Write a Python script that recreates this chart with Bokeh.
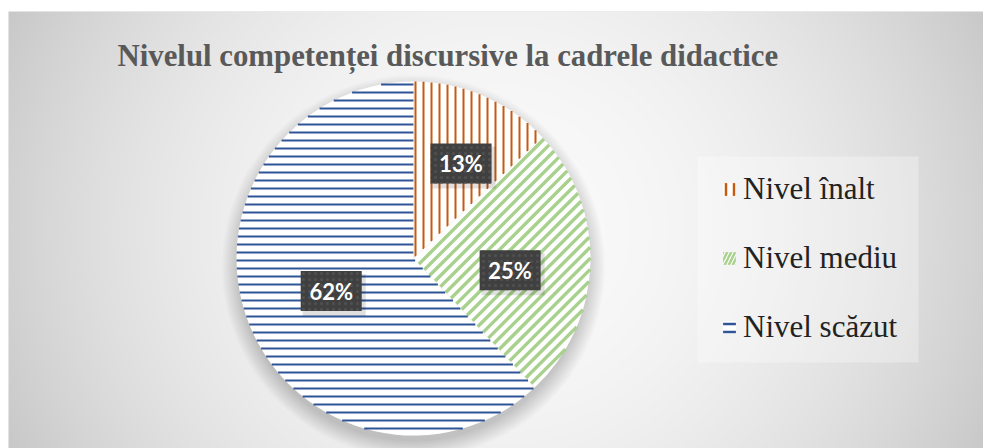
import numpy as np
from bokeh.plotting import figure
from bokeh.models import Range1d, Legend, LegendItem, Label, ColumnDataSource
from bokeh.embed import file_html
from bokeh.resources import INLINE
from bokeh.core.properties import value

# ---------------- data ----------------
title_text = "Nivelul competenței discursive la cadrele didactice"
categories = ["Nivel înalt", "Nivel mediu", "Nivel scăzut"]
percentages = [13, 25, 62]

# ---------------- styles ----------------
hatch_colors = ["#C55A11", "#A9D18E", "#2F5597"]
hatch_patterns = ["|", "/", "-"]
hatch_dirs = [90, 45, 0]          # direction of hatch lines (deg)
hatch_spacing = [8, 7.8, 8]
hatch_offset = [-2, 0, 6]
hatch_widths = [2, 3.4, 2]
label_dist = [0.60, 0.55, 0.5]
label_turn_deg = [3.2, 5.2, 0.0]  # clockwise nudge of label positions

W, H = 983, 448
LEFT, TOP = 8, 11
FW, FH = W - LEFT, H - TOP
CX, CY, R = 405, 190, 177

p = figure(width=W, height=H, output_backend="svg", toolbar_location=None,
           x_range=Range1d(0, FW), y_range=Range1d(0, FH),
           x_axis_location=None, y_axis_location=None,
           min_border=0, min_border_left=LEFT, min_border_top=TOP)
p.grid.visible = False
p.outline_line_color = None
p.border_fill_color = "white"
p.background_fill_color = "#d9d9d9"

# radial grey gradient background
gw, gh = FW // 2, FH // 2
yy, xx = np.mgrid[0:gh, 0:gw].astype(float)
dx = (xx - gw * 0.5) / (gw * 0.62)
dy = (yy - gh * 0.50) / (gh * 1.3)
t2 = np.clip(dx ** 2 + dy ** 2, 0, 1.3)
v = np.clip(250 - 62 * t2, 0, 255).astype(np.uint32)
img = (255 << 24) | (v << 16) | (v << 8) | v
p.image_rgba(image=[img.astype(np.uint32)], x=0, y=0, dw=FW, dh=FH)

# soft drop shadow under the pie
for k in range(12):
    p.circle(x=CX, y=CY - 8, radius=R - 2 + k * 1.5, fill_color="black",
             fill_alpha=0.014, line_color=None)

vals = np.array(percentages, dtype=float)
frac = vals / vals.sum()
cum = np.concatenate([[0.0], np.cumsum(frac)])
start = np.pi / 2 - 2 * np.pi * cum[1:]
end = np.pi / 2 - 2 * np.pi * cum[:-1]


def hatch_segments(a0, a1, dir_deg, spacing, offset):
    th = np.deg2rad(dir_deg)
    u = np.array([np.cos(th), np.sin(th)])
    n = np.array([-np.sin(th), np.cos(th)])
    k0 = int(np.floor((-R - offset) / spacing))
    k1 = int(np.ceil((R - offset) / spacing))
    xs, ys = [], []
    span = a1 - a0
    for k in range(k0, k1 + 1):
        c = offset + k * spacing
        if abs(c) >= R:
            continue
        half = np.sqrt(R * R - c * c)
        t = np.linspace(-half, half, 1200)
        px = CX + c * n[0] + t * u[0]
        py = CY + c * n[1] + t * u[1]
        a = np.arctan2(py - CY, px - CX)
        inside = np.mod(a - a0, 2 * np.pi) <= span
        if not inside.any():
            continue
        idx = np.flatnonzero(np.diff(np.concatenate([[0], inside.astype(int), [0]])))
        for s, e in zip(idx[::2], idx[1::2] - 1):
            if e > s:
                xs.append([px[s], px[e]])
                ys.append([py[s], py[e]])
    return xs, ys


legend_renderers = []
for i, cat in enumerate(categories):
    src = ColumnDataSource(dict(x=[CX], y=[CY], s=[start[i]], e=[end[i]]))
    p.wedge(x="x", y="y", radius=R, start_angle="s", end_angle="e", source=src,
            fill_color="white", line_color=None)
    hx, hy = hatch_segments(start[i], end[i], hatch_dirs[i], hatch_spacing[i], hatch_offset[i])
    p.multi_line(xs=hx, ys=hy, line_color=hatch_colors[i], line_width=hatch_widths[i],
                 line_cap="butt")
    # legend swatch renderer (zero-size, only its legend glyph is visible)
    lr = p.rect(x=[CX], y=[CY], width=0, height=0, fill_color="white", line_color=None,
                hatch_pattern=hatch_patterns[i], hatch_color=hatch_colors[i],
                hatch_scale=8, hatch_weight=2.5)
    legend_renderers.append(lr)

# data labels
mid = (cum[:-1] + cum[1:]) / 2
ang = np.pi / 2 - 2 * np.pi * mid - np.deg2rad(label_turn_deg)
d = np.array(label_dist) * R
lx = CX + d * np.cos(ang)
ly = CY + d * np.sin(ang)
ltxt = [f"{int(v_)}%" for v_ in percentages]
lsrc = ColumnDataSource(dict(x=lx, y=ly, xs=lx + 3, ys=ly - 4, t=ltxt))
p.rect(x="xs", y="ys", width=63, height=42, source=lsrc, fill_color="black",
       fill_alpha=0.12, line_color=None)
p.rect(x="x", y="y", width=61, height=40, source=lsrc, fill_color="#404040",
       line_color=None, hatch_pattern=".", hatch_color="#505050", hatch_scale=6)
p.text(x="x", y="y", text="t", source=lsrc, text_align="center", text_baseline="middle",
       text_font=value("Lato"), text_font_style="bold", text_font_size="22px",
       text_color="white")

# title
p.add_layout(Label(x=109, y=393, text=title_text, text_align="left",
                   text_baseline="alphabetic", text_font="Liberation Serif",
                   text_font_style="bold", text_font_size="30.8px", text_color="#595959"))

# legend box
p.quad(left=689, right=910, bottom=86, top=292, fill_color="white", fill_alpha=0.3,
       line_color=None)

legend = Legend(items=[LegendItem(label=c, renderers=[r]) for c, r in zip(categories, legend_renderers)],
                location=(713, 103))
legend.label_text_font = "Liberation Serif"
legend.label_text_font_size = "31px"
legend.label_text_color = "#222222"
legend.glyph_width = 16
legend.glyph_height = 16
legend.label_standoff = 6
legend.spacing = 33
legend.padding = 0
legend.margin = 0
legend.background_fill_alpha = 0
legend.border_line_color = None
p.add_layout(legend)

open("out.html", "w").write(file_html(p, INLINE))
